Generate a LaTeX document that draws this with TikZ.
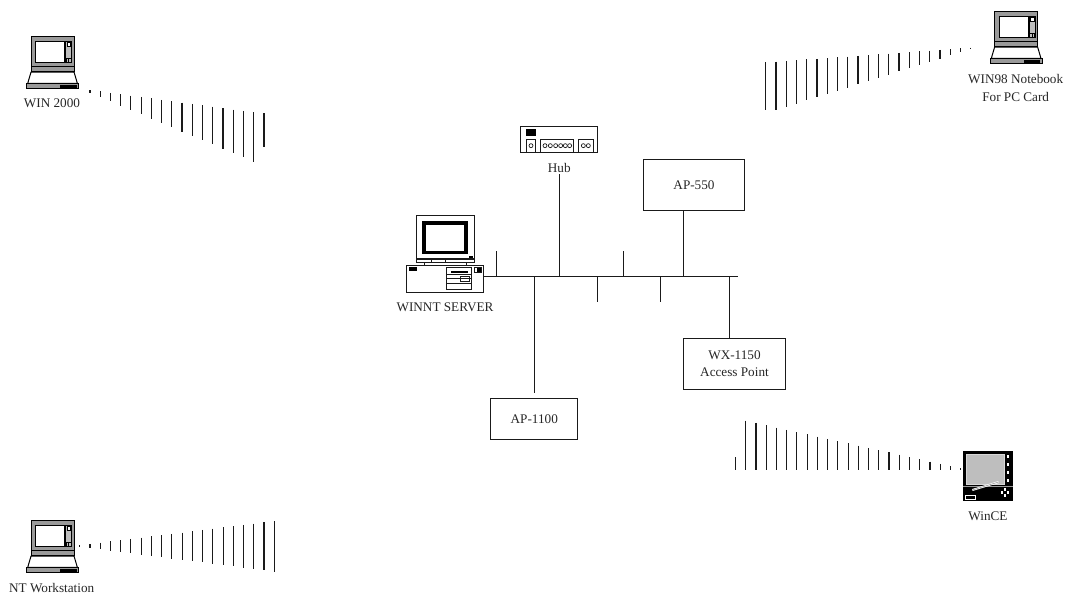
\documentclass[tikz,border=0pt]{standalone}
\usepackage{fontspec}
\setmainfont{Liberation Serif}
\definecolor{ink}{HTML}{1A1A1A}
\definecolor{midgray}{HTML}{9A9A9A}
\definecolor{lcdgray}{HTML}{BEBEBE}
\newcommand{\wavelines}[8]{%
  % x0, dx, steps, top0, top1, bot0, bot1
  \foreach \i in {0,...,#3}{%
    \pgfmathsetmacro{\wx}{#1+\i*(#2)}%
    \pgfmathsetmacro{\wt}{#4+(#5-#4)*\i/#3}%
    \pgfmathsetmacro{\wb}{#6+(#7-#6)*\i/#3}%
    \draw[wave] (\wx,\wt) -- (\wx,\wb);
  }%
}
\tikzset{
  x=1pt,y=-1pt,
  wire/.style={draw=ink,line width=1pt},
  wave/.style={draw=ink,line width=1.15pt},
  lbl/.style={font=\fontsize{13.2}{17.3}\selectfont,text=black!85,inner sep=0pt,align=center},
  devbox/.style={draw=ink,line width=1pt,inner sep=0pt,font=\fontsize{13.2}{17.3}\selectfont,text=black!85,align=center},
  zoomed/.style={x=0.33333pt,y=-0.33333pt},
  laptop/.pic={
    \begin{scope}[zoomed,line width=0.8pt]
      \filldraw[draw=black,fill=midgray] (13,0) rectangle (142,90);
      \filldraw[draw=black,fill=white] (27,15) rectangle (113,77);
      \filldraw[draw=black,fill=lcdgray,line width=0.5pt] (117,15) rectangle (135,77);
      \filldraw[draw=black,fill=white,line width=0.3pt] (121,17) rectangle (131,27);
      \fill[black] (117,64) rectangle (135,78);
      \fill[lcdgray] (120,67) rectangle (125,76);
      \fill[lcdgray] (128,67) rectangle (132,76);
      \filldraw[draw=black,fill=midgray] (13,90) rectangle (142,104);
      \filldraw[draw=black,fill=white,line width=1pt] (13,106) -- (142,106) -- (152,140) -- (3,140) -- cycle;
      \filldraw[draw=black,fill=midgray,line width=0.9pt] (0,140) rectangle (155,154);
      \fill[black] (100,145) rectangle (150,155);
    \end{scope}
  },
}
\begin{document}
\begin{tikzpicture}
\useasboundingbox (0,0) rectangle (1072,608);

% wireless wave lines
\wavelines{90}{10.229}{16}{90}{112.3}{92.7}{161.7}{}
\draw[wave] (264,113.3) -- (264,147);
\wavelines{970.7}{-10.247}{19}{47.7}{61.7}{49}{110}{}
\draw[wave] (765.7,62) -- (765.7,110);
\wavelines{960.7}{-10.238}{21}{468.3}{420.7}{470}{470}{}
\draw[wave] (735.3,457) -- (735.3,470);
\wavelines{79.7}{10.242}{19}{545.3}{521}{546.7}{571.7}{}

% laptops
\pic at (26.7,36.7) {laptop};
\pic at (26.7,520.7) {laptop};
\pic at (990.3,11.7) {laptop};

% labels
\node[lbl] (lwin2000) at (52,103.5) {WIN 2000};
\node[lbl] (lnt) at (51.7,588) {NT Workstation};
\node[lbl] (lwin98) at (1015.7,88) {WIN98 Notebook\\For PC Card};
\node[lbl] (lwince) at (988,516.7) {WinCE};
\node[lbl] (lhub) at (559.3,168.3) {Hub};
\node[lbl] (lsrv) at (445,307.7) {WINNT SERVER};

% boxes
\node[devbox,minimum width=101.4pt,minimum height=50.7pt] (ap550) at (694,185.3) {AP-550};
\node[devbox,minimum width=102.4pt,minimum height=50.7pt] (wx1150) at (734.5,363.7) {WX-1150\\Access Point};
\node[devbox,minimum width=86.7pt,minimum height=41.3pt] (ap1100) at (534.3,419.3) {AP-1100};
\node[draw=ink,line width=1pt,minimum width=76.7pt,minimum height=26.7pt,inner sep=0pt] (srvbox) at (445.3,278.7) {};
\node[draw=ink,line width=1pt,minimum width=76.7pt,minimum height=26pt,inner sep=0pt] (hubbox) at (559.3,139) {};

% server and hub detail
\begin{scope}[shift={(380,90)},zoomed]
  \draw[ink,line width=1pt] (110,376) rectangle (282,505);
  \fill[black] (126,392) rectangle (265,492);
  \fill[white] (138,404) rectangle (252,482);
  \fill[black] (267,498) rectangle (280,503);
  \draw[ink,line width=0.8pt] (110,509) rectangle (282,517);
  \draw[ink,line width=0.6pt] (155,509) -- (155,517) (197,509) -- (197,517);
  \draw[ink,line width=0.9pt] (132,517) -- (132,526) (260,517) -- (260,526);
  \fill[black] (87,532) rectangle (112,542);
  \draw[ink,line width=0.8pt] (199,533) rectangle (275,598);
  \fill[black] (213,542) rectangle (263,548);
  \draw[ink,line width=0.6pt] (199,552) -- (275,552) (199,566) -- (275,566) (199,580) -- (275,580);
  \draw[ink,line width=0.6pt] (241,560) rectangle (267,574);
  \draw[ink,line width=0.6pt] (282,533) rectangle (304,546);
  \fill[black] (291,533) rectangle (304,546);
  % hub
  \fill[black] (438,118) rectangle (468,138);
  \draw[ink,line width=0.8pt] (439,186) -- (439,148) -- (467,148) -- (467,186);
  \draw[ink,line width=0.8pt] (482,186) -- (482,148) -- (581,148) -- (581,186);
  \draw[ink,line width=0.8pt] (596,186) -- (596,148) -- (639,148) -- (639,186);
  \draw[ink,line width=0.7pt] (453,167) circle (6);
  \foreach \cx in {495,511,527,542,556,569}
    \draw[ink,line width=0.7pt] (\cx,167) circle (6);
  \foreach \cx in {610,625}
    \draw[ink,line width=0.7pt] (\cx,167) circle (6);
\end{scope}

% WinCE device
\begin{scope}[shift={(720,410)},zoomed]
  \fill[black] (730,124) rectangle (878,272);
  \fill[midgray] (730,227) rectangle (878,231);
  \fill[lcdgray!60] (737,131) rectangle (854,225);
  \fill[lcdgray] (740,134) rectangle (852,222);
  \foreach \by in {136,158,184,208}
    \fill[white] (860,\by) rectangle (868,\by+9);
  \draw[white,line width=2pt] (836,216) -- (757,240);
  \draw[midgray,line width=0.6pt] (836,216) -- (757,240);
  \draw[white,line width=0.7pt] (736,255) rectangle (766,268);
  \foreach \dx/\dy in {855/238,846/247,864/247,855/256}
    \fill[white] (\dx-4,\dy-4) rectangle (\dx+4,\dy+4);
\end{scope}

% bus and connectors
\coordinate (busend) at (738,276.5);
\coordinate (jstubA) at (496,276.5);
\coordinate (jap1100) at (534,276.5);
\coordinate (jstubB) at (597.5,276.5);
\coordinate (jhub) at (559.5,276.5);
\coordinate (jstubC) at (623,276.5);
\coordinate (jstubD) at (660.7,276.5);
\coordinate (jap550) at (683.5,276.5);
\coordinate (jwx) at (729.3,276.5);
\coordinate (tA) at (496,251);
\coordinate (tB) at (597.5,302);
\coordinate (tC) at (623,251);
\coordinate (tD) at (660.7,302);
\coordinate (thub) at (559.5,174.3);
\coordinate (tap1100) at (534,393.3);
\draw[wire] (srvbox.east |- busend) -- (busend);
\draw[wire] (jstubA) -- (tA);
\draw[wire] (jstubB) -- (tB);
\draw[wire] (jstubC) -- (tC);
\draw[wire] (jstubD) -- (tD);
\draw[wire] (jhub) -- (thub);
\draw[wire] (jap1100) -- (tap1100);
\draw[wire] (jap550) -- (jap550 |- ap550.south);
\draw[wire] (jwx) -- (jwx |- wx1150.north);
\end{tikzpicture}
\end{document}
